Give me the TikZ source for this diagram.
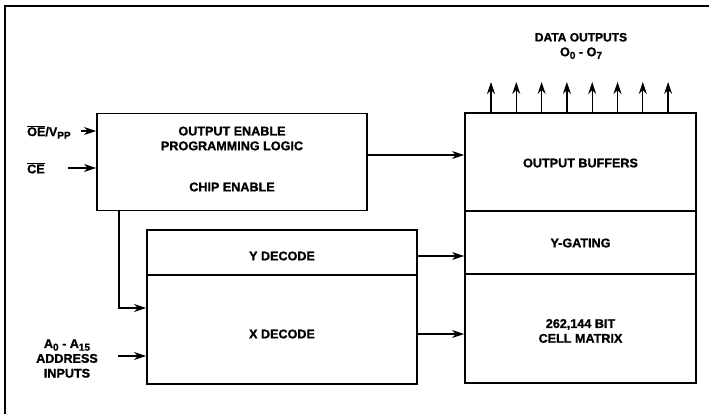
\documentclass[tikz,border=0pt]{standalone}
\usepackage{fontspec}
\setmainfont{Liberation Sans}[BoldFeatures={FakeBold=1.3}]
\usetikzlibrary{arrows.meta,calc}
\newcommand{\lowidx}[1]{\raisebox{-0.4ex}{\fontsize{10}{10}\selectfont #1}}
\begin{document}
\begin{tikzpicture}[x=1pt,y=-1pt,
  font=\fontsize{12.6}{14.8}\selectfont\bfseries,
  blk/.style={draw,line width=1.9pt,rectangle,inner sep=0pt},
  lbl/.style={inner sep=0pt,align=center},
  arr/.style={line width=1.3pt,-{Stealth[length=12pt,width=8pt]}},
  frm/.style={line width=1.6pt}]
\useasboundingbox (0,0) rectangle (709,414);
% frame
\coordinate (fr1) at (709,6);
\coordinate (fr2) at (5,6);
\coordinate (fr3) at (5,414);
\draw[frm] (fr1) -- (fr2) -- (fr3);
% blocks
\node[blk,minimum width=270pt,minimum height=97pt] (oe) at (232,162) {};
\node[blk,minimum width=231pt,minimum height=98pt] (obuf) at (580.5,162) {};
\node[blk,minimum width=231pt,minimum height=63pt] (ygate) at (580.5,242.5) {};
\node[blk,minimum width=231pt,minimum height=109pt] (cell) at (580.5,328.5) {};
\node[blk,minimum width=270pt,minimum height=45pt] (ydec) at (282,252.5) {};
\node[blk,minimum width=270pt,minimum height=109pt] (xdec) at (282,329.5) {};
% block texts
\node[lbl] (oet) at (232,138.5) {OUTPUT ENABLE\\PROGRAMMING LOGIC};
\node[lbl] (cet) at (232,187) {CHIP ENABLE};
\node[lbl] (obt) at (580.5,163) {OUTPUT BUFFERS};
\node[lbl] (ygt) at (580.5,243) {Y-GATING};
\node[lbl] (cmt) at (580.5,331) {262,144 BIT\\CELL MATRIX};
\node[lbl] (ydt) at (282,256) {Y DECODE};
\node[lbl] (xdt) at (282,334) {X DECODE};
% inputs
\node[lbl,anchor=west] (oevpp) at (27,132) {$\overline{\hbox{OE}}$/V\lowidx{PP}};
\node[lbl,anchor=west] (ce) at (27,168) {$\overline{\hbox{CE}}$};
\node[lbl] (addr) at (67,358.5) {A\lowidx{0} - A\lowidx{15}\\ADDRESS\\INPUTS};
\coordinate (oein) at (81,131);
\coordinate (cein) at (68,168);
\coordinate (ain) at (118,356);
\draw[arr] (oein) -- (oe.west |- oein);
\draw[arr] (cein) -- (oe.west |- cein);
\draw[arr] (ain) -- (xdec.west |- ain);
% internal connectors
\draw[arr] ($(oe.east)+(0,-7)$) -- ($(obuf.west)+(0,-7)$);
\draw[arr] ($(ydec.east)+(0,3.5)$) -- ($(ygate.west)+(0,13.5)$);
\draw[arr] ($(xdec.east)+(0,4.5)$) -- ($(cell.west)+(0,5.5)$);
\coordinate (cedown) at (119,210);
\draw[arr] (cedown) |- ($(xdec.west)+(0,-21.5)$);
% data outputs
\node[lbl] (dout) at (581,46) {\fontsize{12}{14.5}\selectfont DATA OUTPUTS\\O\lowidx{0} - O\lowidx{7}};
\foreach \i in {0,...,7}{
  \coordinate (d\i) at ({491+25.3*\i},82);
  \draw[arr] (obuf.north -| d\i) -- (d\i);
}
\end{tikzpicture}
\end{document}
